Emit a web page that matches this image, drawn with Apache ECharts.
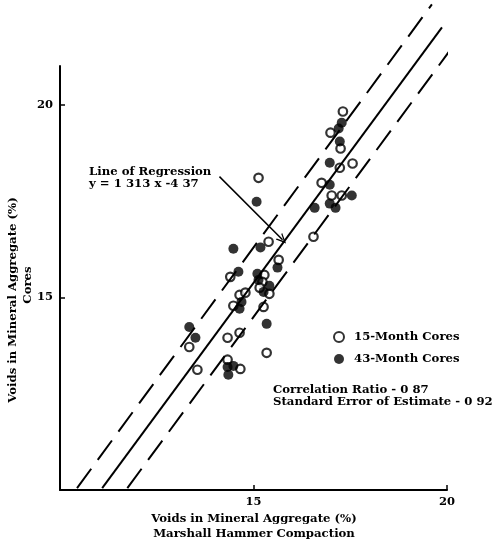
<!DOCTYPE html>
<html>
<head>
<meta charset="utf-8">
<script src="https://cdn.jsdelivr.net/npm/echarts@6/dist/echarts.min.js"></script>
<style>
html,body{margin:0;padding:0;background:#fff;}
#chart{width:503px;height:541px;}
</style>
</head>
<body>
<div id="chart"></div>
<script>
// 15-Month Cores (open circles): [marshall, cores]
var cores15 = [
  [17.31,19.82],[16.99,19.27],[17.25,18.86],[17.23,18.36],[17.56,18.47],
  [16.76,17.97],[17.02,17.64],[17.28,17.64],[16.55,16.57],[15.13,18.10],
  [15.39,16.44],[15.65,15.97],[14.40,15.53],[15.28,15.58],[15.23,15.40],
  [15.16,15.25],[15.41,15.09],[14.64,15.06],[14.79,15.12],[14.48,14.78],
  [15.26,14.75],[13.34,13.71],[13.55,13.12],[14.33,13.95],[14.64,14.08],
  [15.34,13.56],[14.33,13.38],[14.66,13.14]
];
// 43-Month Cores (filled circles)
var cores43 = [
  [17.28,19.53],[17.20,19.38],[17.23,19.04],[16.97,18.49],[16.97,17.92],
  [17.54,17.64],[16.97,17.43],[17.12,17.32],[16.58,17.32],[15.08,17.48],
  [15.18,16.29],[14.48,16.26],[15.62,15.77],[14.61,15.66],[15.10,15.61],
  [15.13,15.45],[15.41,15.30],[15.26,15.14],[14.69,14.88],[14.64,14.70],
  [13.34,14.23],[13.50,13.95],[15.34,14.31],[14.33,13.19],[14.48,13.22],
  [14.35,12.99]
];
// Regression line and standard-error band (end points)
var regLine   = [[11.09,10.05],[19.87,22.00]];
var upperBand = [[10.44,10.05],[19.61,22.60]];
var lowerBand = [[11.74,10.05],[20.44,21.90]];
// Arrow from the annotation to the regression line
var arrowFrom = [14.12,18.13];
var arrowTo   = [15.75,16.49];
var xTicks = [15,20];
var yTicks = [15,20];

var FONT = 'DejaVu Serif';
var F = 'bold 11.7px "DejaVu Serif"';
var chart = echarts.init(document.getElementById('chart'), null, {renderer:'canvas'});
var option = {
  backgroundColor:'#fff',
  animation:false,
  grid:{left:60,top:66,width:387,height:424,containLabel:false},
  xAxis:{
    type:'value',min:10,max:20,interval:5,
    axisLine:{lineStyle:{color:'#000',width:2}},
    axisTick:{show:true,inside:true,length:5,customValues:xTicks,lineStyle:{color:'#000',width:1.5}},
    axisLabel:{color:'#000',fontFamily:FONT,fontWeight:'bold',fontSize:11.5,margin:6,customValues:xTicks},
    splitLine:{show:false}
  },
  yAxis:{
    type:'value',min:10,max:21,interval:5,
    axisLine:{lineStyle:{color:'#000',width:2}},
    axisTick:{show:true,inside:true,length:5,customValues:yTicks,lineStyle:{color:'#000',width:1.5}},
    axisLabel:{color:'#000',fontFamily:FONT,fontWeight:'bold',fontSize:11.5,margin:7,customValues:yTicks},
    splitLine:{show:false}
  },
  legend:{
    orient:'vertical',left:328,top:326,itemWidth:10,itemHeight:10,itemGap:10,
    textStyle:{color:'#000',fontFamily:FONT,fontWeight:'bold',fontSize:11.7,padding:[0,0,0,5]},
    data:['15-Month Cores','43-Month Cores']
  },
  series:[
    {type:'line',data:regLine,symbol:'none',clip:false,silent:true,
     lineStyle:{color:'#000',width:2},
     markLine:{silent:true,symbol:['none','path://M0,10 L5,0 L10,10 L8.6,10 L5,3.2 L1.4,10 Z'],symbolSize:[9,10],
       label:{show:false},lineStyle:{color:'#000',width:1.5,type:'solid'},
       data:[[{coord:arrowFrom},{coord:arrowTo}]]}},
    {type:'line',data:upperBand,symbol:'none',clip:false,silent:true,
     lineStyle:{color:'#000',width:2,type:[24,11]}},
    {type:'line',data:lowerBand,symbol:'none',clip:false,silent:true,
     lineStyle:{color:'#000',width:2,type:[24,11]}},
    {name:'15-Month Cores',type:'scatter',data:cores15,symbol:'circle',symbolSize:8.5,
     itemStyle:{color:'#fff',borderColor:'#000',borderWidth:2.2}},
    {name:'43-Month Cores',type:'scatter',data:cores43,symbol:'circle',symbolSize:10,
     itemStyle:{color:'#000',borderColor:'#000',borderWidth:0}}
  ],
  graphic:[
    {type:'text',left:89,top:166,style:{text:'Line of Regression\ny = 1 313 x -4 37',fill:'#000',font:F,lineHeight:12}},
    {type:'text',left:273,top:384,style:{text:'Correlation Ratio - 0 87\nStandard Error of Estimate - 0 92',fill:'#000',font:F,lineHeight:12}},
    {type:'text',x:254,y:519,style:{text:'Voids in Mineral Aggregate (%)',fill:'#000',font:F,align:'center',verticalAlign:'middle'}},
    {type:'text',x:254,y:534,style:{text:'Marshall Hammer Compaction',fill:'#000',font:F,align:'center',verticalAlign:'middle'}},
    {type:'text',x:13,y:300,rotation:Math.PI/2,style:{text:'Voids in Mineral Aggregate (%)',fill:'#000',font:F,align:'center',verticalAlign:'middle'}},
    {type:'text',x:28,y:285,rotation:Math.PI/2,style:{text:'Cores',fill:'#000',font:F,align:'center',verticalAlign:'middle'}}
  ]
};
chart.setOption(option);
</script>
</body>
</html>
